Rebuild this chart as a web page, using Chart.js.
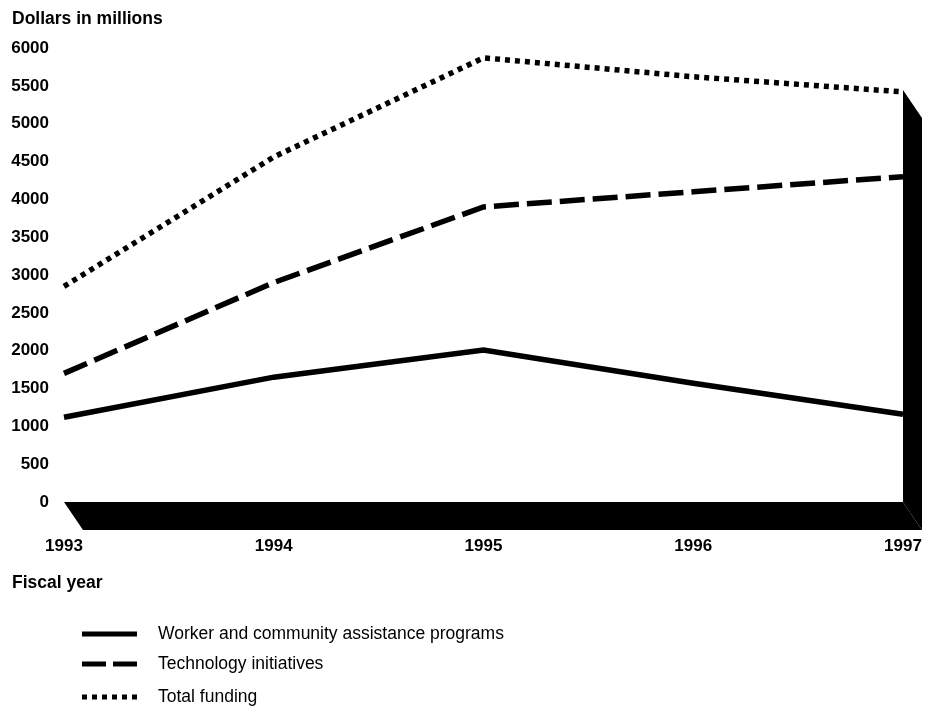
<!DOCTYPE html>
<html lang="en">
<head>
    <meta charset="UTF-8">
    <title>Funding by fiscal year</title>
    <script src="https://cdn.jsdelivr.net/npm/chart.js"></script>
    <style>
        html, body { margin: 0; padding: 0; background: #fff; }
        #wrap { width: 927px; height: 711px; position: relative; }
    </style>
</head>
<body>
    <div id="wrap"><canvas id="fundingChart"></canvas></div>
    <script>
        // Values (dollars in millions)
        const years = ['1993', '1994', '1995', '1996', '1997'];
        const workerAssistance = [1120, 1650, 2010, 1570, 1160];
        const technology = [1700, 2900, 3900, 4100, 4300];
        const totalFunding = [2850, 4560, 5870, 5620, 5420];
        const yMin = 0, yMax = 6000, yStep = 500;

        const seriesNames = [
            'Worker and community assistance programs',
            'Technology initiatives',
            'Total funding'
        ];

        // 3D floor / wall depth
        const DX = 19, DY = 28;
        const textFont = '17.5px "Liberation Sans", Arial, sans-serif';
        const boldFont = 'bold 17.5px "Liberation Sans", Arial, sans-serif';

        const decor = {
            id: 'decor',
            beforeDatasetsDraw(chart) {
                const { ctx, scales: { x, y } } = chart;
                const x0 = x.getPixelForValue(0);
                const x1 = x.getPixelForValue(years.length - 1);
                const y0 = y.getPixelForValue(0);
                const wallTop = y.getPixelForValue(totalFunding[totalFunding.length - 1]) - 2;
                ctx.save();
                ctx.fillStyle = '#000';
                // floor
                ctx.beginPath();
                ctx.moveTo(x0, y0);
                ctx.lineTo(x1, y0);
                ctx.lineTo(x1 + DX, y0 + DY);
                ctx.lineTo(x0 + DX, y0 + DY);
                ctx.closePath();
                ctx.fill();
                // right wall
                ctx.beginPath();
                ctx.moveTo(x1, wallTop);
                ctx.lineTo(x1 + DX, wallTop + DY);
                ctx.lineTo(x1 + DX, y0 + DY);
                ctx.lineTo(x1, y0);
                ctx.closePath();
                ctx.fill();
                ctx.restore();
            },
            afterDraw(chart) {
                const ctx = chart.ctx;
                ctx.save();
                ctx.fillStyle = '#000';
                ctx.textBaseline = 'middle';
                ctx.textAlign = 'left';
                ctx.font = boldFont;
                ctx.fillText('Dollars in millions', 12, 19);
                ctx.fillText('Fiscal year', 12, 583);

                // legend
                const rows = [634, 664, 697];
                chart.data.datasets.forEach((ds, i) => {
                    const ly = rows[i];
                    ctx.save();
                    ctx.strokeStyle = '#000';
                    ctx.lineWidth = 5;
                    ctx.lineCap = 'butt';
                    ctx.setLineDash(ds.legendDash || []);
                    ctx.beginPath();
                    ctx.moveTo(82, ly);
                    ctx.lineTo(137, ly);
                    ctx.stroke();
                    ctx.restore();
                    ctx.font = textFont;
                    ctx.fillText(ds.label, 158, ly);
                });
                ctx.restore();
            }
        };

        new Chart(document.getElementById('fundingChart'), {
            type: 'line',
            data: {
                labels: years,
                datasets: [{
                    label: seriesNames[0],
                    data: workerAssistance,
                    borderColor: '#000',
                    borderWidth: 5.5,
                    legendDash: []
                }, {
                    label: seriesNames[1],
                    data: technology,
                    borderColor: '#000',
                    borderWidth: 5.5,
                    borderDash: [25, 8],
                    legendDash: [24, 7]
                }, {
                    label: seriesNames[2],
                    data: totalFunding,
                    borderColor: '#000',
                    borderWidth: 5.5,
                    borderDash: [5, 5],
                    legendDash: [5, 5]
                }]
            },
            options: {
                responsive: true,
                maintainAspectRatio: false,
                animation: false,
                devicePixelRatio: 1,
                elements: {
                    point: { radius: 0 },
                    line: { tension: 0, borderCapStyle: 'butt' }
                },
                layout: { padding: { left: 6, right: 24, top: 48, bottom: 149 } },
                plugins: {
                    legend: { display: false },
                    tooltip: { enabled: false }
                },
                scales: {
                    x: {
                        grid: { display: false, drawTicks: false },
                        border: { display: false },
                        afterFit(scale) {
                            scale.height = 60;
                            scale.paddingLeft = 0;
                            scale.paddingRight = 0;
                        },
                        ticks: {
                            padding: 34,
                            maxRotation: 0,
                            color: '#000',
                            font: { family: '"Liberation Sans", Arial, sans-serif', size: 17, weight: 'bold' }
                        }
                    },
                    y: {
                        min: yMin,
                        max: yMax,
                        grid: { display: false, drawTicks: false },
                        border: { display: false },
                        afterFit(scale) { scale.width = 58; },
                        ticks: {
                            stepSize: yStep,
                            padding: 15,
                            color: '#000',
                            font: { family: '"Liberation Sans", Arial, sans-serif', size: 17, weight: 'bold' },
                            callback: (v) => String(v)
                        }
                    }
                }
            },
            plugins: [decor]
        });
    </script>
</body>
</html>
